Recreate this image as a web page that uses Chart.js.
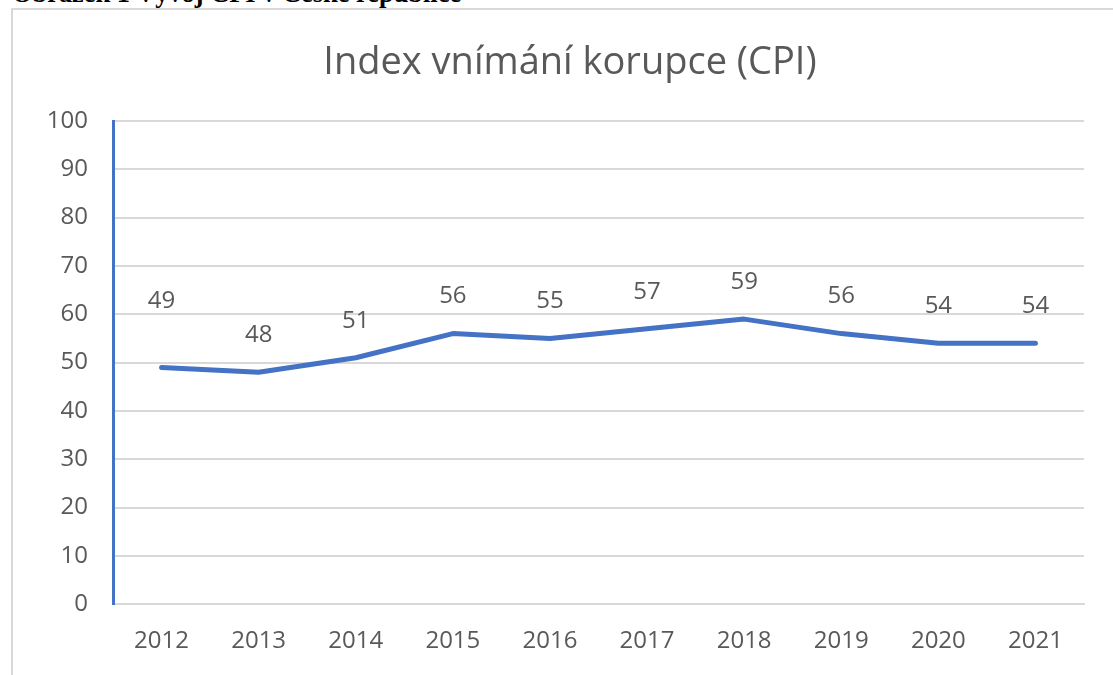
<!DOCTYPE html>
<html>
<head>
<meta charset="utf-8">
<script src="https://cdn.jsdelivr.net/npm/chart.js@4"></script>
<style>
  html, body { margin:0; padding:0; background:#fff; width:1113px; height:675px; overflow:hidden; }
  #cap { position:absolute; left:12px; top:-20px; font-family:"Liberation Serif","Times New Roman",serif; font-weight:bold; font-size:26.4px; line-height:26px; color:#000; white-space:nowrap; }
  #box { position:absolute; left:11px; top:8px; width:1200px; height:800px; border:2px solid #d9d9d9; box-sizing:border-box; }
  #wrap { position:absolute; left:0; top:0; width:1113px; height:675px; }
</style>
</head>
<body>
<div id="cap">Obrázek 1 Vývoj CPI v České republice</div>
<div id="box"></div>
<div id="wrap"><canvas id="c" width="1113" height="675"></canvas></div>
<script>
const years = ['2012','2013','2014','2015','2016','2017','2018','2019','2020','2021'];
const cpiValues = [49, 48, 51, 56, 55, 57, 59, 56, 54, 54];
const yTicks = [0, 10, 20, 30, 40, 50, 60, 70, 80, 90, 100];
const chartTitle = 'Index vnímání korupce (CPI)';

const TEXT = '#595959';
const FONT = '"Open Sans", "Noto Sans", sans-serif';

// Title centred on the (wider, cropped) chart frame, and value labels above points
const textPlugin = {
  id: 'texts',
  afterDraw(chart) {
    const ctx = chart.ctx;
    ctx.save();
    ctx.fillStyle = TEXT;
    ctx.textAlign = 'center';
    ctx.textBaseline = 'middle';
    ctx.font = '38px ' + FONT;
    ctx.fillText(chartTitle, 570, 63);
    ctx.restore();
  },
  afterDatasetsDraw(chart) {
    const ctx = chart.ctx;
    const meta = chart.getDatasetMeta(0);
    ctx.save();
    ctx.font = '24px ' + FONT;
    ctx.fillStyle = TEXT;
    ctx.textAlign = 'center';
    ctx.textBaseline = 'middle';
    meta.data.forEach((pt, i) => {
      const off = i === 0 ? 66 : 37;
      ctx.fillText(String(cpiValues[i]), pt.x, pt.y - off);
    });
    ctx.restore();
  }
};

new Chart(document.getElementById('c'), {
  type: 'line',
  data: {
    labels: years,
    datasets: [{
      data: cpiValues,
      borderColor: '#4472C4',
      borderWidth: 5,
      borderCapStyle: 'round',
      borderJoinStyle: 'round',
      pointRadius: 0,
      tension: 0,
      fill: false
    }]
  },
  options: {
    responsive: false,
    animation: false,
    layout: { padding: { left: 0, right: 29, top: 121, bottom: -4 } },
    plugins: {
      legend: { display: false },
      tooltip: { enabled: false },
      title: { display: false }
    },
    scales: {
      x: {
        offset: true,
        grid: { display: false, drawTicks: false },
        border: { display: true, color: '#d9d9d9', width: 2 },
        ticks: { color: TEXT, font: { family: FONT, size: 24 }, padding: 23, maxRotation: 0 }
      },
      y: {
        min: 0, max: 100,
        afterFit(scale) { scale.width = 113; },
        afterBuildTicks(scale) { scale.ticks = yTicks.map(v => ({ value: v })); },
        grid: { color: '#d9d9d9', lineWidth: 2, drawTicks: false },
        border: { display: true, color: '#4472C4', width: 3 },
        ticks: { color: TEXT, font: { family: FONT, size: 24 }, padding: 25 }
      }
    }
  },
  plugins: [textPlugin]
});
</script>
</body>
</html>
